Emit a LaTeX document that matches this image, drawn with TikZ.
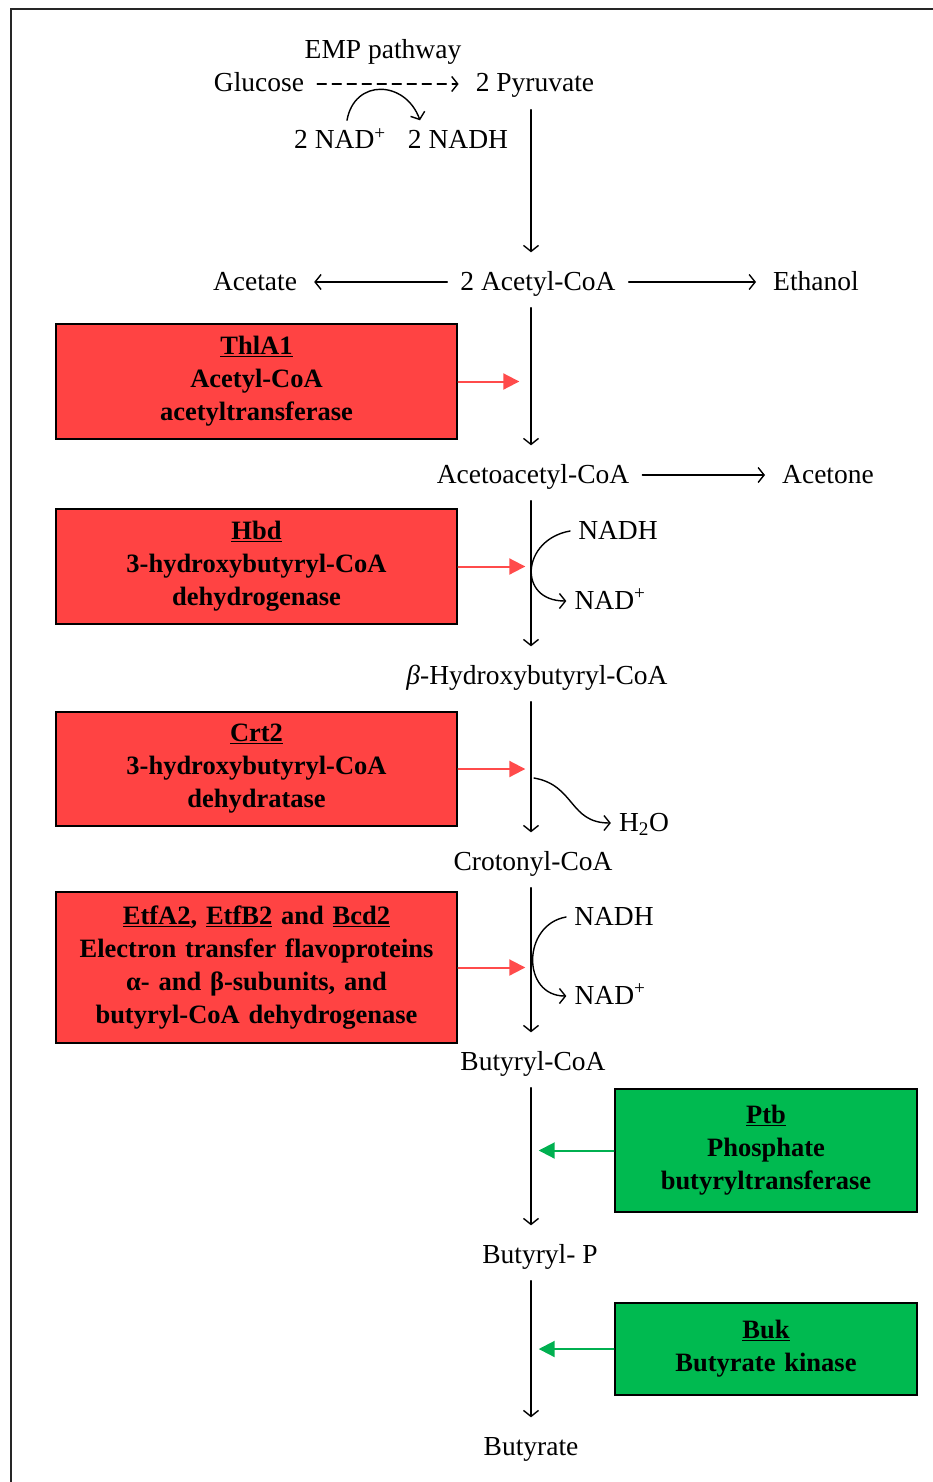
\documentclass[tikz,border=0pt]{standalone}
\usepackage{fontspec}
\setmainfont{Liberation Serif}
\usetikzlibrary{arrows.meta}

\def\pathAxis{\coordinate (axis) at (531,0);\coordinate (dehyd) at (534,778);}

\begin{document}
\begin{tikzpicture}[x=1pt, y=-1pt, line cap=round,
	metab/.style={inner sep=9pt, text height=20.5pt, text depth=4.5pt, font=\fontsize{27.5}{31}\selectfont},
	cofac/.style={inner sep=8pt, text height=20.5pt, text depth=4.5pt, font=\fontsize{27.5}{31}\selectfont},
	flow/.style={-{Straight Barb[length=6pt,width=15pt]}, line width=1.4pt},
	mainflow/.style={flow, shorten <=4pt, shorten >=8pt},
	enzbox/.style={draw=black, line width=2.6pt, align=center, inner ysep=0pt, inner xsep=5.5pt, font=\fontsize{26.5}{33}\selectfont\bfseries},
	enzred/.style={enzbox, fill=enzRed, text width=390pt},
	enzgreen/.style={enzbox, fill=enzGreen, text width=291pt},
	redtip/.style={-{Triangle[length=16pt,width=16pt]}, line width=2pt, draw=tipRed},
	greentip/.style={-{Triangle[length=16pt,width=16pt]}, line width=2pt, draw=tipGreen}]
		\definecolor{enzRed}{RGB}{255,67,67}
		\definecolor{enzGreen}{RGB}{0,186,80}
		\definecolor{tipRed}{RGB}{255,75,75}
		\definecolor{tipGreen}{RGB}{0,176,80}
		\useasboundingbox (0,0) rectangle (933,1482);
		\pathAxis
		
		% frame
		\draw[line width=2pt, black!85] (11,1482) -- (11,9) -- (933,9);
		
		% glycolysis
		\node[metab] (emp) at (383,51) {EMP pathway};
		\node[metab] (glc) at (259,84) {Glucose};
		\node[metab] (pyr) at (535,84) {2 Pyruvate};
		\node[cofac] (nadp0) at (340,141) {2 NAD\textsuperscript{+}};
		\node[cofac] (nadh0) at (458,141) {2 NADH};
		\draw[mainflow, dash pattern=on 9pt off 6pt] (glc) -- (pyr);
		\draw[flow] ([xshift=7pt]nadp0.north) to[out=80,in=110,looseness=1.5] ([xshift=-38pt]nadh0.north);
		
		% metabolites
		\node[metab] (acoa) at (538,282) {2 Acetyl-CoA};
		\node[metab] (acet) at (255,282) {Acetate};
		\node[metab] (etoh) at (816,282) {Ethanol};
		\node[metab] (aacoa) at (533,475) {Acetoacetyl-CoA};
		\node[metab] (acone) at (828,475) {Acetone};
		\node[metab] (hbcoa) at (537,676) {\textit{β}-Hydroxybutyryl-CoA};
		\node[metab] (ccoa) at (533,862) {Crotonyl-CoA};
		\node[metab] (bcoa) at (533,1062) {Butyryl-CoA};
		\node[metab] (bp) at (540,1255) {Butyryl- P};
		\node[metab] (but) at (531,1447) {Butyrate};
		
		% main chain
		\draw[mainflow] (pyr.south -| axis) -- (acoa.north -| axis);
		\draw[mainflow] (acoa) -- (acet);
		\draw[mainflow] (acoa) -- (etoh);
		\draw[mainflow] (acoa.south -| axis) -- (aacoa.north -| axis);
		\draw[mainflow] (aacoa) -- (acone);
		\draw[mainflow] (aacoa.south -| axis) -- (hbcoa.north -| axis);
		\draw[mainflow] (hbcoa.south -| axis) -- (ccoa.north -| axis);
		\draw[mainflow] (ccoa.south -| axis) -- (bcoa.north -| axis);
		\draw[mainflow] (bcoa.south -| axis) -- (bp.north -| axis);
		\draw[mainflow] (bp.south -| axis) -- (but.north -| axis);
		
		% cofactors
		\node[cofac] (nadh1) at (618,531) {NADH};
		\node[cofac] (nad1) at (610,601) {NAD\textsuperscript{+}};
		\node[cofac] (h2o) at (644,823) {H\textsubscript{2}O};
		\node[cofac] (nadh2) at (614,917) {NADH};
		\node[cofac] (nad2) at (610,996) {NAD\textsuperscript{+}};
		\draw[flow] (nadh1.west) to[out=190,in=180,looseness=1.8] (nad1.west);
		\draw[flow] (dehyd) to[out=-10,in=180,looseness=1.2] (h2o.west);
		\draw[flow] (nadh2.west) to[out=190,in=180,looseness=1.45] (nad2.west);
		
		% enzymes
		\node[enzred, minimum height=115pt] (thl) at (256.5,381.5) {\underline{ThlA1}\\Acetyl-CoA\\acetyltransferase};
		\node[enzred, minimum height=115pt] (hbd) at (256.5,566.5) {\underline{Hbd}\\3-hydroxybutyryl-CoA\\dehydrogenase};
		\node[enzred, minimum height=114pt] (crt) at (256.5,769) {\underline{Crt2}\\3-hydroxybutyryl-CoA\\dehydratase};
		\node[enzred, minimum height=151pt] (etf) at (256.5,967.5) {\underline{EtfA2}, \underline{EtfB2} and \underline{Bcd2}\\Electron transfer flavoproteins\\α- and β-subunits, and\\butyryl-CoA dehydrogenase};
		\node[enzgreen, minimum height=123pt] (ptb) at (766,1150.5) {\underline{Ptb}\\Phosphate\\butyryltransferase};
		\node[enzgreen, minimum height=92pt] (buk) at (766,1349) {\underline{Buk}\\Butyrate kinase};
		\draw[redtip] (thl.east) -- ++(61,0);
		\draw[redtip] (hbd.east) -- ++(67,0);
		\draw[redtip] (crt.east) -- ++(67,0);
		\draw[redtip] (etf.east) -- ++(67,0);
		\draw[greentip] (ptb.west) -- ++(-75,0);
		\draw[greentip] (buk.west) -- ++(-75,0);
\end{tikzpicture}
\end{document}
